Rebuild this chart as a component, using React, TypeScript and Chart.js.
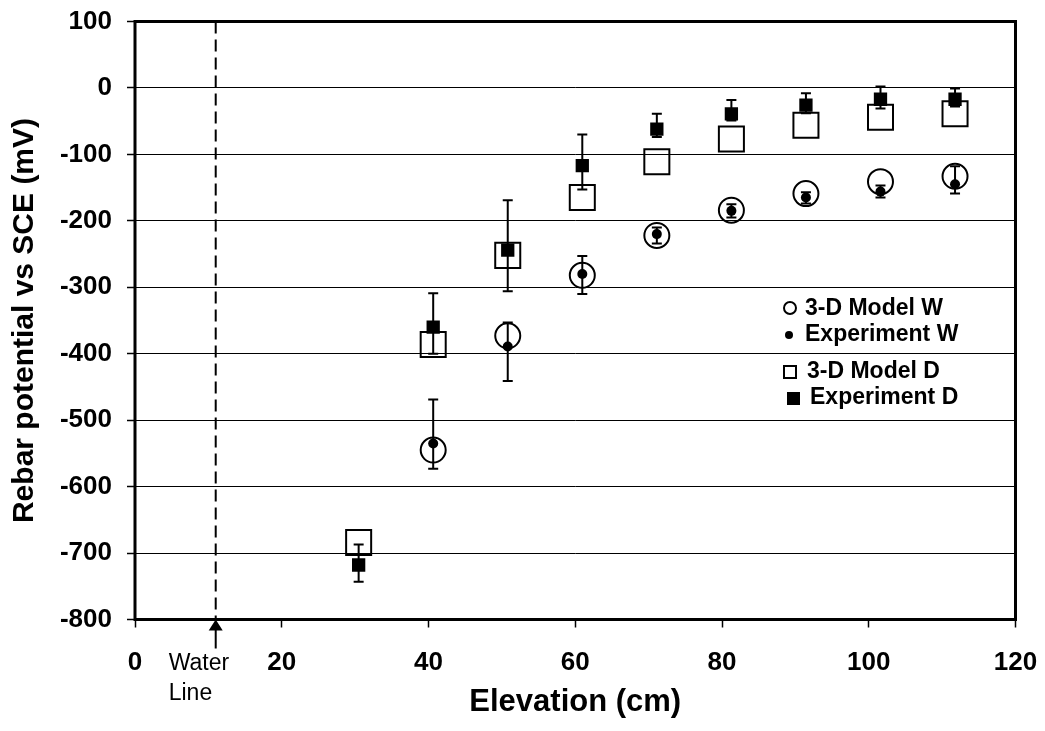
import React, { useEffect, useRef } from "react";
import { Chart, registerables } from "chart.js";

Chart.register(...registerables);

// ---- Data ----
const elevations = [30.48, 40.64, 50.8, 60.96, 71.12, 81.28, 91.44, 101.6, 111.76];
const modelW = [null, -545, -373, -282, -222, -184, -159, -141, -133];
const expW = [null, -535, -389, -280, -220, -185, -165, -156, -145];
const expWHigh = [null, -469, -353, -253, -210, -175, -157, -147, -118];
const expWLow = [null, -573, -441, -310, -234, -195, -174, -165, -159];
const modelD = [-684, -386, -252, -165, -111, -77, -56, -44, -39];
const expD = [-718, -360, -244, -117, -62, -39, -26, -17, -17];
const expDHigh = [-687, -309, -169, -70, -39, -18, -8, 2, -1];
const expDLow = [-743, -400, -306, -153, -74, -49, -38, -31, -28];
const waterLineX = 11;
const waterLineLabel = ["Water", "Line"];
const legendLabels = ["3-D Model W", "Experiment W", "3-D Model D", "Experiment D"];
const xTitle = "Elevation (cm)";
const yTitle = "Rebar potential vs SCE (mV)";

const FONT = "'Liberation Sans', Arial, Helvetica, sans-serif";

function toPoints(vals: (number | null)[]) {
  const pts: { x: number; y: number }[] = [];
  vals.forEach((v, i) => {
    if (v !== null) pts.push({ x: elevations[i], y: v });
  });
  return pts;
}

const errorBarPlugin = {
  id: "errorBars",
  afterDatasetsDraw(chart: any) {
    const { ctx, scales } = chart;
    const xs = scales.x;
    const ys = scales.y;
    const sets = [
      [expWHigh, expWLow],
      [expDHigh, expDLow],
    ];
    ctx.save();
    ctx.strokeStyle = "#000";
    ctx.lineWidth = 2;
    sets.forEach(([hi, lo]) => {
      elevations.forEach((x, i) => {
        const h = hi[i];
        const l = lo[i];
        if (h === null || l === null) return;
        const px = xs.getPixelForValue(x);
        const py1 = ys.getPixelForValue(h);
        const py2 = ys.getPixelForValue(l);
        ctx.beginPath();
        ctx.moveTo(px, py1);
        ctx.lineTo(px, py2);
        ctx.moveTo(px - 5, py1);
        ctx.lineTo(px + 5, py1);
        ctx.moveTo(px - 5, py2);
        ctx.lineTo(px + 5, py2);
        ctx.stroke();
      });
    });
    ctx.restore();
  },
};

const decorPlugin = {
  id: "decor",
  afterDraw(chart: any) {
    const { ctx, chartArea, scales } = chart;
    const { left, top, right, bottom } = chartArea;
    ctx.save();
    // water line
    const wx = scales.x.getPixelForValue(waterLineX);
    ctx.strokeStyle = "#000";
    ctx.lineWidth = 2;
    ctx.setLineDash([12, 6]);
    ctx.beginPath();
    ctx.moveTo(wx, top);
    ctx.lineTo(wx, bottom);
    ctx.stroke();
    ctx.setLineDash([]);
    // arrow
    ctx.fillStyle = "#000";
    ctx.beginPath();
    ctx.moveTo(wx, bottom);
    ctx.lineTo(wx - 7, bottom + 11);
    ctx.lineTo(wx + 7, bottom + 11);
    ctx.closePath();
    ctx.fill();
    ctx.beginPath();
    ctx.moveTo(wx, bottom + 10);
    ctx.lineTo(wx, bottom + 29);
    ctx.stroke();
    ctx.font = `23px ${FONT}`;
    ctx.textAlign = "left";
    ctx.textBaseline = "middle";
    ctx.fillText(waterLineLabel[0], wx - 47, bottom + 44);
    ctx.fillText(waterLineLabel[1], wx - 47, bottom + 74);

    // plot box
    ctx.lineWidth = 3;
    ctx.strokeRect(left, top, right - left, bottom - top);

    // legend
    ctx.lineWidth = 2;
    ctx.font = `bold 23px ${FONT}`;
    // 3-D Model W
    ctx.beginPath();
    ctx.arc(790, 308, 6, 0, Math.PI * 2);
    ctx.stroke();
    ctx.fillText(legendLabels[0], 805, 309);
    // Experiment W
    ctx.beginPath();
    ctx.arc(789, 335, 4, 0, Math.PI * 2);
    ctx.fill();
    ctx.fillText(legendLabels[1], 805, 335);
    // 3-D Model D
    ctx.strokeRect(784, 366, 12, 12);
    ctx.fillText(legendLabels[2], 807, 372);
    // Experiment D
    ctx.fillRect(787, 392, 13, 13);
    ctx.fillText(legendLabels[3], 810, 398);
    ctx.restore();
  },
};

export default function App() {
  const ref = useRef<HTMLCanvasElement>(null);
  useEffect(() => {
    const chart = new Chart(ref.current!, {
      type: "scatter",
      data: {
        datasets: [
          {
            label: legendLabels[1],
            data: toPoints(expW),
            pointStyle: "circle",
            pointRadius: 5,
            backgroundColor: "#000",
            borderWidth: 0,
            order: 1,
          },
          {
            label: legendLabels[3],
            data: toPoints(expD),
            pointStyle: "rect",
            pointRadius: 9.4,
            backgroundColor: "#000",
            borderWidth: 0,
            order: 2,
          },
          {
            label: legendLabels[0],
            data: toPoints(modelW),
            pointStyle: "circle",
            pointRadius: 12.5,
            backgroundColor: "rgba(0,0,0,0)",
            borderColor: "#000",
            borderWidth: 2,
            order: 3,
          },
          {
            label: legendLabels[2],
            data: toPoints(modelD),
            pointStyle: "rect",
            pointRadius: 17.7,
            backgroundColor: "rgba(0,0,0,0)",
            borderColor: "#000",
            borderWidth: 2,
            order: 4,
          },
        ],
      },
      options: {
        animation: false,
        responsive: true,
        maintainAspectRatio: false,
        layout: { padding: { left: 0, right: 29.5, top: 21.5, bottom: 0 } },
        plugins: { legend: { display: false }, tooltip: { enabled: false } },
        scales: {
          x: {
            type: "linear",
            min: 0,
            max: 120,
            ticks: {
              stepSize: 20,
              color: "#000",
              padding: 20,
              font: { family: FONT, size: 26, weight: "bold" },
            },
            grid: {
              drawOnChartArea: false,
              drawTicks: true,
              tickLength: 8,
              tickColor: "#000",
              tickWidth: 1.5,
            },
            border: { display: false },
            title: {
              display: true,
              text: xTitle,
              color: "#000",
              font: { family: FONT, size: 31, weight: "bold" },
              padding: { top: 0, bottom: 10 },
            },
            afterFit: (s: any) => {
              s.height = 111.5;
              s.paddingLeft = 0;
              s.paddingRight = 0;
              s.paddingTop = 0;
              s.paddingBottom = 0;
            },
          },
          y: {
            type: "linear",
            min: -800,
            max: 100,
            ticks: {
              stepSize: 100,
              color: "#000",
              padding: 15,
              font: { family: FONT, size: 26, weight: "bold" },
            },
            grid: {
              color: "#000",
              lineWidth: 1,
              drawTicks: true,
              tickLength: 8,
              tickColor: "#000",
              tickWidth: 1.5,
            },
            border: { display: false },
            title: {
              display: true,
              text: yTitle,
              color: "#000",
              font: { family: FONT, size: 30, weight: "bold" },
              padding: { top: 7, bottom: 0 },
            },
            afterFit: (s: any) => {
              s.width = 135;
              s.paddingLeft = 0;
              s.paddingRight = 0;
              s.paddingTop = 0;
              s.paddingBottom = 0;
            },
          },
        },
      } as any,
      plugins: [errorBarPlugin, decorPlugin],
    });
    return () => chart.destroy();
  }, []);
  return (
    <div
      style={{
        position: "fixed",
        left: 0,
        top: 0,
        width: 1045,
        height: 731,
        background: "#fff",
      }}
    >
      <canvas ref={ref} />
    </div>
  );
}
